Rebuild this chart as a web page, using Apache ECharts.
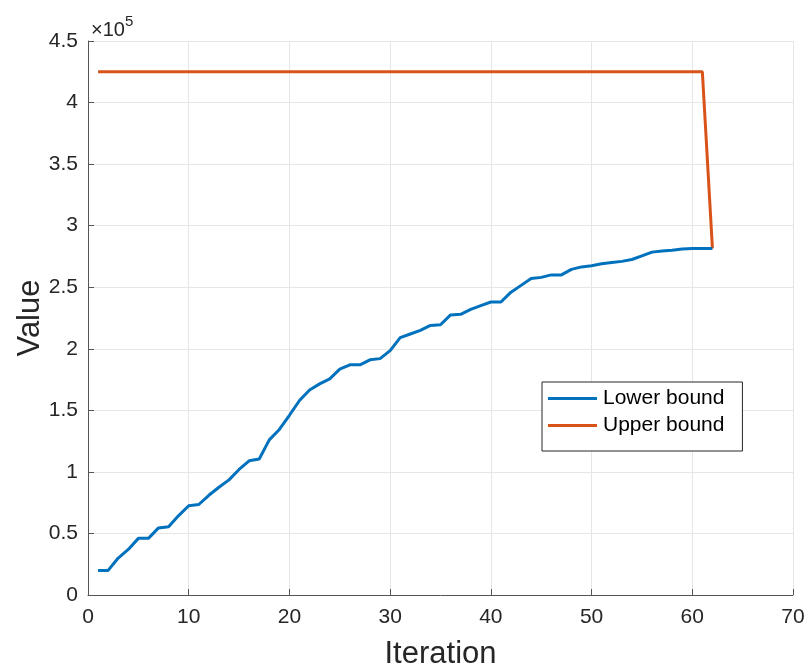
<!DOCTYPE html>
<html><head><meta charset="utf-8">
<script src="https://cdn.jsdelivr.net/npm/echarts@6/dist/echarts.min.js"></script>
<style>html,body{margin:0;padding:0;background:#fff}#c{width:806px;height:666px}</style>
</head><body><div id="c"></div>
<script>
const iterations = Array.from({length: 62}, (_, i) => i + 1);
const lowerBound = [
  0.20, 0.20, 0.30, 0.37, 0.46, 0.46, 0.545, 0.555, 0.645, 0.725,
  0.735, 0.81, 0.875, 0.935, 1.02, 1.09, 1.105, 1.26, 1.345, 1.46,
  1.58, 1.665, 1.715, 1.755, 1.835, 1.87, 1.87, 1.91, 1.92, 1.985,
  2.09, 2.12, 2.15, 2.19, 2.195, 2.275, 2.28, 2.32, 2.35, 2.38,
  2.38, 2.46, 2.515, 2.57, 2.58, 2.60, 2.60, 2.645, 2.665, 2.675,
  2.69, 2.70, 2.71, 2.725, 2.755, 2.785, 2.795, 2.80, 2.81, 2.815,
  2.815, 2.815
].map(v => v * 1e5);
const upperBound = [
  ...Array(61).fill(4.25), 2.815
].map(v => v * 1e5);
const seriesNames = ['Lower bound', 'Upper bound'];
const xTicks = [0, 10, 20, 30, 40, 50, 60, 70];
const yTicks = [0, 0.5, 1, 1.5, 2, 2.5, 3, 3.5, 4, 4.5];

const chart = echarts.init(document.getElementById('c'));
const font = 'Liberation Sans, Arial, Helvetica, sans-serif';
const axisCol = '#262626';
chart.setOption({
  animation: false,
  backgroundColor: '#fff',
  grid: {left: 88, right: 13, top: 41, bottom: 71, containLabel: false, outerBoundsMode: 'none'},
  legend: {
    data: seriesNames,
    orient: 'vertical',
    left: 542, top: 382,
    backgroundColor: '#fff',
    borderColor: '#262626', borderWidth: 1,
    padding: [6, 18, 15, 6],
    itemWidth: 49, itemHeight: 3, itemGap: 6,
    icon: 'rect',
    textStyle: {fontFamily: font, fontSize: 21, color: '#000', padding: [0, 0, 0, 1]}
  },
  xAxis: {
    type: 'value', min: 0, max: 70, interval: 10,
    name: 'Iteration', nameLocation: 'middle', nameGap: 44,
    nameTextStyle: {fontFamily: font, fontSize: 31, color: axisCol},
    axisLine: {show: true, lineStyle: {color: '#555', width: 1}},
    axisTick: {show: true, inside: true, length: 6, lineStyle: {color: '#555'}},
    axisLabel: {fontFamily: font, fontSize: 21, color: axisCol, margin: 12,
      formatter: v => xTicks.includes(v) ? String(v) : ''},
    splitLine: {show: true, lineStyle: {color: '#e6e6e6', width: 1}}
  },
  yAxis: {
    type: 'value', min: 0, max: 4.5e5, interval: 0.5e5,
    name: 'Value', nameLocation: 'middle', nameGap: 42, nameRotate: 90,
    nameMoveOverlap: false,
    nameTextStyle: {fontFamily: font, fontSize: 31, color: axisCol},
    axisLine: {show: true, lineStyle: {color: '#555', width: 1}},
    axisTick: {show: true, inside: true, length: 6, lineStyle: {color: '#555'}},
    axisLabel: {fontFamily: font, fontSize: 21, color: axisCol, margin: 10,
      formatter: v => { const t = Math.round(v / 1e4) / 10; return yTicks.includes(t) ? String(t) : ''; }},
    splitLine: {show: true, lineStyle: {color: '#e6e6e6', width: 1}}
  },
  graphic: [{
    type: 'text', left: 91, top: 14,
    style: {
      text: '{a|×10}{b|5}',
      rich: {
        a: {fontFamily: font, fontSize: 20, fill: axisCol, padding: [6, 0, 0, 0]},
        b: {fontFamily: font, fontSize: 15, fill: axisCol, verticalAlign: 'top'}
      }
    }
  }],
  series: [
    {name: seriesNames[0], type: 'line', showSymbol: false, symbol: 'none',
     data: iterations.map((x, i) => [x, lowerBound[i]]),
     lineStyle: {color: '#0072BD', width: 3}, itemStyle: {color: '#0072BD'}, z: 3},
    {name: seriesNames[1], type: 'line', showSymbol: false, symbol: 'none',
     data: iterations.map((x, i) => [x, upperBound[i]]),
     lineStyle: {color: '#D95319', width: 3}, itemStyle: {color: '#D95319'}, z: 2}
  ]
});
</script></body></html>
